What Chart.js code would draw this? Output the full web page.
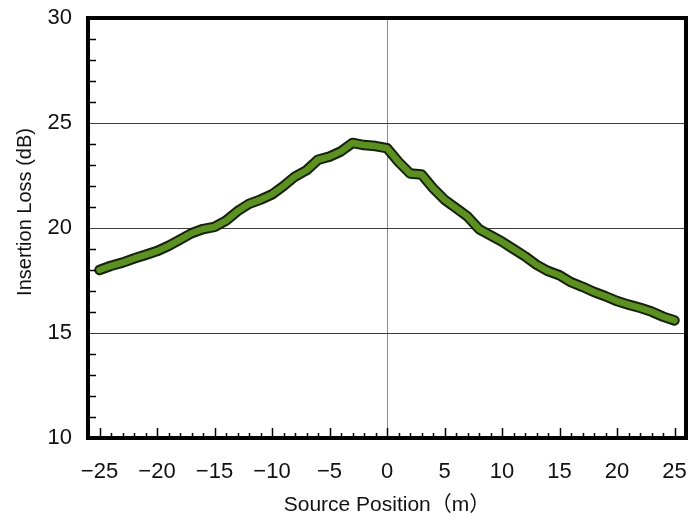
<!DOCTYPE html>
<html>
<head>
<meta charset="utf-8">
<script src="https://cdn.jsdelivr.net/npm/chart.js@4"></script>
<style>
  html, body { margin: 0; padding: 0; background: #ffffff; }
  #wrap { width: 691px; height: 525px; }
</style>
</head>
<body>
<div id="wrap"><canvas id="c" width="691" height="525"></canvas></div>
<script>
// Source position along the barrier (m)
const positions = [
  -25, -24, -23, -22, -21, -20, -19, -18, -17, -16,
  -15, -14, -13, -12, -11, -10, -9, -8, -7, -6,
  -5, -4, -3, -2, -1, 0, 1, 2, 3, 4,
  5, 6, 7, 8, 9, 10, 11, 12, 13, 14,
  15, 16, 17, 18, 19, 20, 21, 22, 23, 24, 25
];
// Measured insertion loss (dB)
const insertionLoss = [
  18.0, 18.2, 18.35, 18.55, 18.72, 18.9, 19.15, 19.45, 19.75, 19.95,
  20.05, 20.35, 20.8, 21.15, 21.35, 21.6, 22.0, 22.45, 22.75, 23.25,
  23.4, 23.65, 24.05, 23.95, 23.9, 23.8, 23.15, 22.6, 22.55, 21.9,
  21.35, 20.95, 20.55, 19.95, 19.65, 19.35, 19.0, 18.65, 18.25, 17.95,
  17.75, 17.42, 17.2, 16.95, 16.75, 16.52, 16.35, 16.2, 16.02, 15.78, 15.6
];
const xTickValues = [-25, -20, -15, -10, -5, 0, 5, 10, 15, 20, 25];
const xTickLabels = ['\u221225', '\u221220', '\u221215', '\u221210', '\u22125', '0', '5', '10', '15', '20', '25'];
const yTickValues = [10, 15, 20, 25, 30];
const yTickLabels = ['10', '15', '20', '25', '30'];

const xTitle = 'Source Position\uFF08m\uFF09';
const yTitle = 'Insertion Loss (dB)';

const points = positions.map((x, i) => ({ x: x, y: insertionLoss[i] }));

const FONT = '"Liberation Sans", Arial, "Noto Sans CJK JP", sans-serif';

// Keep the plot box where the layout padding puts it
function fixBox(size, key) {
  return function (scale) {
    scale[key] = size;
    scale.paddingLeft = 0;
    scale.paddingRight = 0;
    scale.paddingTop = 0;
    scale.paddingBottom = 0;
  };
}

// Thick frame, inward minor ticks and the rotated y-axis title
const framePlugin = {
  id: 'frameAndTicks',
  afterDatasetsDraw(chart) {
    const { ctx, chartArea: a, scales } = chart;
    const xs = scales.x, ys = scales.y;
    ctx.save();
    ctx.strokeStyle = '#000';
    // x-axis ticks (every 1 m, majors every 5 m)
    ctx.lineWidth = 1.5;
    for (let v = -25; v <= 25; v++) {
      const px = Math.round(xs.getPixelForValue(v)) + 0.5;
      const len = (v % 5 === 0) ? 10 : 5;
      ctx.beginPath();
      ctx.moveTo(px, a.bottom);
      ctx.lineTo(px, a.bottom - len);
      ctx.stroke();
    }
    // y-axis minor ticks (every 1 dB)
    for (let v = 11; v < 30; v++) {
      if (v % 5 === 0) continue;
      const py = Math.round(ys.getPixelForValue(v)) + 0.5;
      ctx.beginPath();
      ctx.moveTo(a.left, py);
      ctx.lineTo(a.left + 8, py);
      ctx.stroke();
    }
    // plot frame
    ctx.lineWidth = 4;
    ctx.lineJoin = 'miter';
    ctx.strokeRect(a.left, a.top, a.right - a.left, a.bottom - a.top);
    // y-axis title
    ctx.fillStyle = '#111';
    ctx.font = '20px ' + FONT;
    ctx.textAlign = 'center';
    ctx.textBaseline = 'middle';
    ctx.translate(25, 212);
    ctx.rotate(-Math.PI / 2);
    ctx.fillText(yTitle, 0, 0);
    ctx.restore();
  }
};

new Chart(document.getElementById('c'), {
  type: 'line',
  data: {
    datasets: [
      {
        label: 'Insertion loss',
        data: points,
        borderColor: '#5c9122',
        borderWidth: 6.5,
        pointRadius: 0,
        tension: 0,
        borderCapStyle: 'round',
        borderJoinStyle: 'round',
        fill: false
      },
      {
        label: 'Insertion loss outline',
        data: points,
        borderColor: '#16220b',
        borderWidth: 10.5,
        pointRadius: 0,
        tension: 0,
        borderCapStyle: 'round',
        borderJoinStyle: 'round',
        fill: false
      }
    ]
  },
  options: {
    responsive: false,
    devicePixelRatio: 1,
    animation: false,
    layout: { padding: { left: 0, top: 18, right: 5, bottom: 0 } },
    plugins: {
      legend: { display: false },
      tooltip: { enabled: false }
    },
    scales: {
      x: {
        type: 'linear',
        min: -26,
        max: 26,
        afterBuildTicks(scale) {
          scale.ticks = xTickValues.map(v => ({ value: v }));
        },
        afterFit: fixBox(87, 'height'),
        ticks: {
          callback: (v) => xTickLabels[xTickValues.indexOf(v)],
          color: '#111',
          font: { family: FONT, size: 22 },
          padding: 21,
          maxRotation: 0,
          autoSkip: false
        },
        grid: {
          color: (c) => (c.tick && c.tick.value === 0) ? '#8c8c8c' : 'rgba(0,0,0,0)',
          lineWidth: 1,
          drawTicks: false
        },
        border: { display: false },
        title: {
          display: true,
          text: xTitle,
          color: '#111',
          font: { family: FONT, size: 21 },
          padding: { top: 0, bottom: 7 }
        }
      },
      y: {
        type: 'linear',
        min: 10,
        max: 30,
        afterBuildTicks(scale) {
          scale.ticks = yTickValues.map(v => ({ value: v }));
        },
        afterFit: fixBox(88, 'width'),
        ticks: {
          callback: (v) => yTickLabels[yTickValues.indexOf(v)],
          color: '#111',
          font: { family: FONT, size: 22 },
          padding: 16
        },
        grid: {
          color: (c) => (c.tick && c.tick.value > 10 && c.tick.value < 30) ? '#3c3c3c' : 'rgba(0,0,0,0)',
          lineWidth: 1,
          drawTicks: false
        },
        border: { display: false }
      }
    }
  },
  plugins: [framePlugin]
});
</script>
</body>
</html>
